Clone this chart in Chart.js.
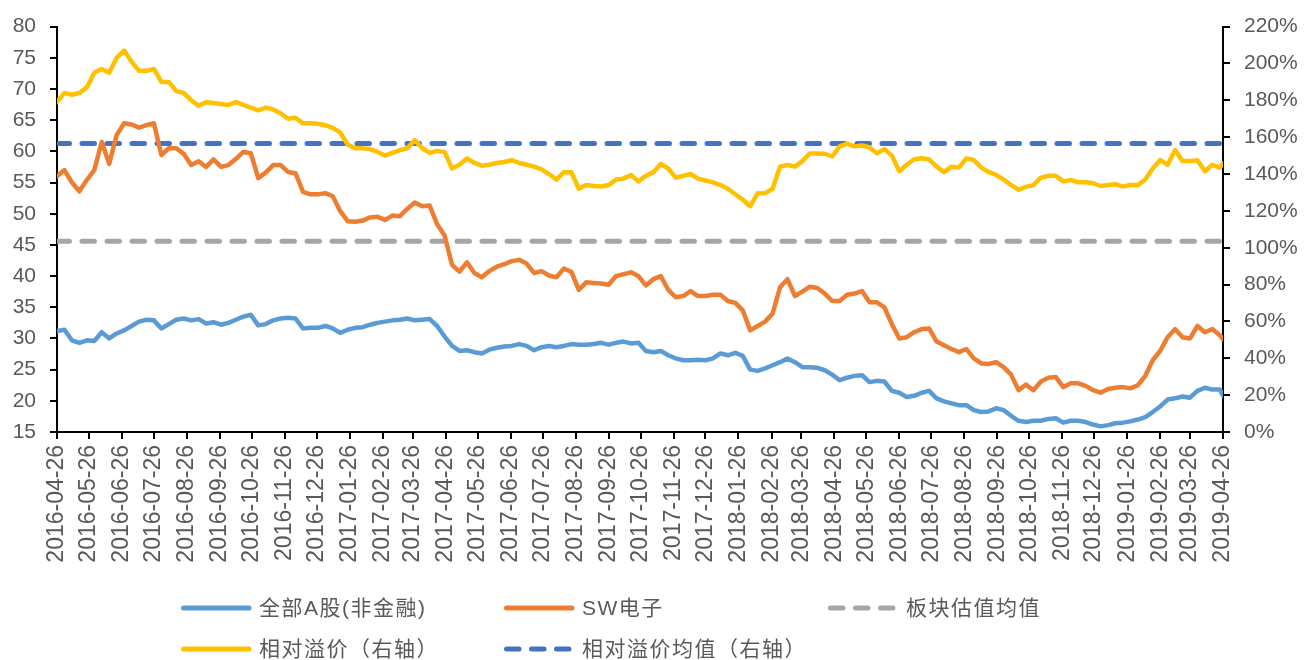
<!DOCTYPE html>
<html>
<head>
<meta charset="utf-8">
<script src="https://cdn.jsdelivr.net/npm/chart.js@4.4.1/dist/chart.umd.min.js"></script>
<style>
  html, body { margin: 0; background: #fff; }
  #wrap { width: 1308px; height: 660px; }
</style>
</head>
<body>
<div id="wrap"><canvas id="chart" width="1308" height="660"></canvas></div>
<script>
// weekly sample dates
const dates = [
  '2016-04-26','2016-05-03','2016-05-10','2016-05-17','2016-05-24','2016-05-31','2016-06-07','2016-06-14','2016-06-21','2016-06-28',
  '2016-07-05','2016-07-12','2016-07-19','2016-07-26','2016-08-02','2016-08-09','2016-08-16','2016-08-23','2016-08-30','2016-09-06',
  '2016-09-13','2016-09-20','2016-09-27','2016-10-04','2016-10-11','2016-10-18','2016-10-25','2016-11-01','2016-11-08','2016-11-15',
  '2016-11-22','2016-11-29','2016-12-06','2016-12-13','2016-12-20','2016-12-27','2017-01-03','2017-01-10','2017-01-17','2017-01-24',
  '2017-01-31','2017-02-07','2017-02-14','2017-02-21','2017-02-28','2017-03-07','2017-03-14','2017-03-21','2017-03-28','2017-04-04',
  '2017-04-11','2017-04-18','2017-04-25','2017-05-02','2017-05-09','2017-05-16','2017-05-23','2017-05-30','2017-06-06','2017-06-13',
  '2017-06-20','2017-06-27','2017-07-04','2017-07-11','2017-07-18','2017-07-25','2017-08-01','2017-08-08','2017-08-15','2017-08-22',
  '2017-08-29','2017-09-05','2017-09-12','2017-09-19','2017-09-26','2017-10-03','2017-10-10','2017-10-17','2017-10-24','2017-10-31',
  '2017-11-07','2017-11-14','2017-11-21','2017-11-28','2017-12-05','2017-12-12','2017-12-19','2017-12-26','2018-01-02','2018-01-09',
  '2018-01-16','2018-01-23','2018-01-30','2018-02-06','2018-02-13','2018-02-20','2018-02-27','2018-03-06','2018-03-13','2018-03-20',
  '2018-03-27','2018-04-03','2018-04-10','2018-04-17','2018-04-24','2018-05-01','2018-05-08','2018-05-15','2018-05-22','2018-05-29',
  '2018-06-05','2018-06-12','2018-06-19','2018-06-26','2018-07-03','2018-07-10','2018-07-17','2018-07-24','2018-07-31','2018-08-07',
  '2018-08-14','2018-08-21','2018-08-28','2018-09-04','2018-09-11','2018-09-18','2018-09-25','2018-10-02','2018-10-09','2018-10-16',
  '2018-10-23','2018-10-30','2018-11-06','2018-11-13','2018-11-20','2018-11-27','2018-12-04','2018-12-11','2018-12-18','2018-12-25',
  '2019-01-01','2019-01-08','2019-01-15','2019-01-22','2019-01-29','2019-02-05','2019-02-12','2019-02-19','2019-02-26','2019-03-05',
  '2019-03-12','2019-03-19','2019-03-26','2019-04-02','2019-04-09','2019-04-16','2019-04-23','2019-04-26'
];

// 全部A股(非金融) PE
const allA = [
  31.2, 31.4, 29.7, 29.3, 29.7, 29.6, 31, 30, 30.8, 31.3,
  32, 32.7, 33, 32.9, 31.6, 32.3, 33, 33.2, 32.9, 33.1,
  32.4, 32.6, 32.2, 32.5, 33, 33.5, 33.8, 32.1, 32.3, 32.9,
  33.2, 33.3, 33.2, 31.6, 31.7, 31.7, 32, 31.6, 30.9, 31.4,
  31.7, 31.8, 32.2, 32.5, 32.7, 32.9, 33, 33.2, 32.9, 33,
  33.1, 32, 30.3, 28.8, 28, 28.1, 27.8, 27.6, 28.2, 28.5,
  28.7, 28.8, 29.1, 28.8, 28.1, 28.6, 28.8, 28.6, 28.8, 29.1,
  29, 29, 29.1, 29.3, 29, 29.3, 29.5, 29.2, 29.3, 28,
  27.8, 28, 27.3, 26.8, 26.5, 26.5, 26.6, 26.5, 26.8, 27.6,
  27.3, 27.7, 27.2, 25, 24.8, 25.2, 25.7, 26.2, 26.8, 26.2,
  25.4, 25.4, 25.3, 24.9, 24.2, 23.3, 23.7, 24, 24.1, 23,
  23.2, 23.1, 21.6, 21.3, 20.6, 20.8, 21.3, 21.6, 20.4, 19.9,
  19.6, 19.3, 19.3, 18.5, 18.2, 18.3, 18.8, 18.5, 17.6, 16.8,
  16.6, 16.8, 16.8, 17.1, 17.2, 16.5, 16.8, 16.8, 16.6, 16.2,
  15.9, 16.1, 16.4, 16.5, 16.7, 17, 17.4, 18.2, 19.1, 20.2,
  20.4, 20.7, 20.5, 21.6, 22.1, 21.8, 21.8, 20.8
];

// SW电子 PE
const swElec = [
  56, 57, 55, 53.6, 55.4, 57, 61.5, 58, 62.6, 64.5,
  64.3, 63.8, 64.2, 64.5, 59.4, 60.5, 60.5, 59.6, 57.8, 58.4,
  57.5, 58.7, 57.5, 57.8, 58.8, 59.9, 59.7, 55.7, 56.6, 57.8,
  57.8, 56.7, 56.5, 53.5, 53.1, 53.1, 53.3, 52.8, 50.4, 48.8,
  48.7, 48.9, 49.4, 49.5, 49, 49.7, 49.6, 50.8, 51.8, 51.2,
  51.3, 48.3, 46.5, 41.8, 40.7, 42.2, 40.5, 39.8, 40.8, 41.5,
  41.9, 42.4, 42.6, 42, 40.5, 40.8, 40.1, 39.8, 41.2, 40.7,
  37.8, 39, 38.9, 38.8, 38.6, 40, 40.3, 40.6, 40, 38.5,
  39.5, 40, 37.8, 36.6, 36.8, 37.6, 36.8, 36.8, 37, 37,
  36, 35.7, 34.5, 31.3, 32, 32.7, 34, 38.2, 39.5, 36.8,
  37.5, 38.3, 38.1, 37.2, 36, 36, 37, 37.2, 37.6, 35.8,
  35.8, 35, 32.3, 30, 30.2, 31, 31.5, 31.6, 29.5, 28.9,
  28.3, 27.8, 28.3, 26.8, 26, 25.9, 26.2, 25.4, 24.2, 21.7,
  22.6, 21.7, 23.1, 23.7, 23.8, 22.2, 22.8, 22.8, 22.4, 21.7,
  21.3, 21.9, 22.1, 22.2, 22, 22.5, 24, 26.5, 28, 30.2,
  31.5, 30.2, 30, 32, 31, 31.5, 30.5, 29.9
];

// 相对溢价 (%), right axis
const premium = [
  179, 184, 183, 184, 187, 195, 197, 195, 203, 207,
  201, 196, 196, 197, 190, 190, 185, 184, 180, 177,
  179, 178.5, 178, 177.5, 179, 177.5, 176, 174.5, 176, 175,
  173, 170, 170.5, 167.5, 167.5, 167.3, 166.5, 165, 162.5, 156,
  154, 154, 153.5, 152, 150, 151.5, 153, 154, 158.4, 154,
  151.5, 152.5, 152, 143, 145, 148.5, 146, 144.5, 145, 146,
  146.5, 147.5, 146, 145, 144, 142.5, 140, 137, 141, 141,
  132, 134, 133.5, 133.2, 134, 137, 137.5, 139.5, 136, 139,
  141, 145.5, 143, 138, 139, 140, 137.5, 136.5, 135.5, 134,
  132, 129, 126, 122.5, 129.6, 129.6, 132, 144, 144.9, 144,
  147, 151.2, 151.2, 151, 149.5, 155, 156.5, 155, 155.5, 154.5,
  151.2, 153.5, 150, 141.5, 145, 148, 148.5, 148, 144, 141,
  144, 143.5, 148.5, 147.6, 143.5, 141, 139.5, 137, 134, 131.5,
  133, 134, 138, 139, 139, 136, 136.8, 135.5, 135.5, 135,
  133.5, 134, 134.5, 133.2, 134, 134, 137, 143, 147.6, 145,
  153, 147, 147, 147.5, 141.5, 145, 143.5, 145.8
];

const sectorMean = 45.6;    // 板块估值均值
const premiumMean = 156.5;  // 相对溢价均值 (%)

const monthLabels = [
  '2016-04-26','2016-05-26','2016-06-26','2016-07-26','2016-08-26','2016-09-26','2016-10-26','2016-11-26','2016-12-26',
  '2017-01-26','2017-02-26','2017-03-26','2017-04-26','2017-05-26','2017-06-26','2017-07-26','2017-08-26','2017-09-26',
  '2017-10-26','2017-11-26','2017-12-26','2018-01-26','2018-02-26','2018-03-26','2018-04-26','2018-05-26','2018-06-26',
  '2018-07-26','2018-08-26','2018-09-26','2018-10-26','2018-11-26','2018-12-26','2019-01-26','2019-02-26','2019-03-26',
  '2019-04-26'
];

const seriesLabels = ['全部A股(非金融)', 'SW电子', '板块估值均值', '相对溢价（右轴）', '相对溢价均值（右轴）'];

const t0 = Date.parse(dates[0]);
const dayOf = d => (Date.parse(d) - t0) / 86400000;
const lastDay = dayOf(dates[dates.length - 1]);

const pts = arr => arr.map((v, i) => ({x: dayOf(dates[i]), y: v}));
const flat = v => [{x: 0, y: v}, {x: lastDay, y: v}];

const tickFont = {family: '"Liberation Sans", Arial, sans-serif', size: 21};
const grey = '#595959';

const lineStyle = {
  pointRadius: 0,
  borderWidth: 4.5,
  tension: 0,
  borderJoinStyle: 'round',
  borderCapStyle: 'round',
  fill: false
};

// legend laid out as a fixed grid under the x labels
const gridLegend = {
  id: 'gridLegend',
  afterDraw(chart) {
    const ctx = chart.ctx;
    const cols = [181, 504, 828];
    const rows = [608, 649];
    ctx.save();
    chart.data.datasets.forEach((ds, i) => {
      const x = cols[i % 3];
      const y = rows[Math.floor(i / 3)];
      ctx.beginPath();
      ctx.lineWidth = 5;
      ctx.lineCap = 'round';
      ctx.strokeStyle = ds.borderColor;
      ctx.setLineDash(ds.borderDash || []);
      ctx.moveTo(x + 2.5, y);
      ctx.lineTo(x + 68, y);
      ctx.stroke();
      ctx.setLineDash([]);
      ctx.fillStyle = grey;
      ctx.font = '21px "Liberation Sans", "Noto Sans CJK SC", sans-serif';
      ctx.letterSpacing = '1.5px';
      ctx.textBaseline = 'middle';
      ctx.textAlign = 'left';
      ctx.fillText(ds.label, x + 78, y + 1);
    });
    ctx.restore();
  }
};

new Chart(document.getElementById('chart'), {
  type: 'line',
  data: {
    datasets: [
      {label: seriesLabels[0], data: pts(allA), borderColor: '#5B9BD5', yAxisID: 'y', order: 3, ...lineStyle},
      {label: seriesLabels[1], data: pts(swElec), borderColor: '#ED7D31', yAxisID: 'y', order: 2, ...lineStyle},
      {label: seriesLabels[2], data: flat(sectorMean), borderColor: '#A5A5A5', borderDash: [12.5, 12.5], yAxisID: 'y', order: 6, ...lineStyle, borderWidth: 5},
      {label: seriesLabels[3], data: pts(premium), borderColor: '#FFC000', yAxisID: 'y1', order: 1, ...lineStyle},
      {label: seriesLabels[4], data: flat(premiumMean), borderColor: '#4472C4', borderDash: [12.5, 12.5], yAxisID: 'y1', order: 5, ...lineStyle, borderWidth: 5}
    ]
  },
  options: {
    responsive: false,
    animation: false,
    devicePixelRatio: 1,
    layout: {padding: {top: 24, left: 0, right: 0, bottom: 0}},
    plugins: {
      legend: {display: false},
      tooltip: {enabled: false}
    },
    scales: {
      x: {
        type: 'linear',
        min: 0,
        max: lastDay,
        afterBuildTicks: s => { s.ticks = monthLabels.map(d => ({value: dayOf(d)})); },
        afterFit: s => { s.height = 228; },
        ticks: {
          autoSkip: false,
          minRotation: 90,
          maxRotation: 90,
          padding: 6,
          color: grey,
          font: {family: tickFont.family, size: 23},
          callback: (v, i) => monthLabels[i]
        },
        grid: {drawOnChartArea: false, color: '#000', lineWidth: 2, tickLength: 7},
        border: {color: '#000', width: 2}
      },
      y: {
        position: 'left',
        min: 15,
        max: 80,
        afterFit: s => { s.width = 57; },
        ticks: {stepSize: 5, padding: 14, color: grey, font: tickFont},
        grid: {drawOnChartArea: false, color: '#000', lineWidth: 2, tickLength: 7},
        border: {color: '#000', width: 2}
      },
      y1: {
        position: 'right',
        min: 0,
        max: 220,
        afterFit: s => { s.width = 85; },
        ticks: {stepSize: 20, padding: 14, color: grey, font: tickFont, callback: v => v + '%'},
        grid: {drawOnChartArea: false, color: '#000', lineWidth: 2, tickLength: 7},
        border: {color: '#000', width: 2}
      }
    }
  },
  plugins: [gridLegend]
});
</script>
</body>
</html>
